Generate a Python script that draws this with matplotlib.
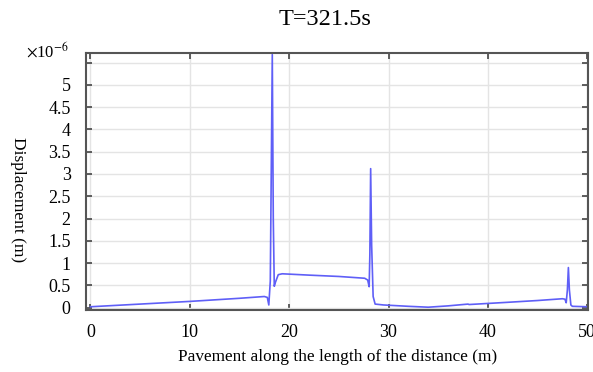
import matplotlib
matplotlib.use("Agg")
import matplotlib.pyplot as plt
import numpy as np

plt.rcParams['font.family'] = ['Liberation Serif', 'DejaVu Serif']
plt.rcParams['mathtext.fontset'] = 'stix'

# surface displacement along the pavement at T=321.5 s (values in 1e-6 m)
dist = [0, 5, 10, 15, 17.5, 17.8, 17.95, 18.1, 18.3, 18.4, 18.5, 18.6, 18.9, 19.3,
        22, 25, 27.6, 27.9, 28.05, 28.12, 28.2, 28.3, 28.45, 28.65, 29.5, 32, 34,
        36, 38, 38.1, 42, 45, 47.5, 47.75, 47.88, 48.0, 48.1, 48.2, 48.35, 48.5, 50]
disp = [0.02, 0.08, 0.14, 0.21, 0.25, 0.23, 0.06, 0.6, 5.68, 2.0, 0.48, 0.56, 0.74, 0.76,
        0.73, 0.70, 0.66, 0.62, 0.47, 1.2, 3.12, 1.4, 0.25, 0.08, 0.06, 0.03, 0.01,
        0.04, 0.08, 0.07, 0.12, 0.16, 0.20, 0.19, 0.11, 0.4, 0.9, 0.4, 0.06, 0.03, 0.02]

yticks = np.arange(0, 5.51, 0.5)
ytick_labels = ['0', '0.5', '1', '1.5', '2', '2.5', '3', '3.5', '4', '4.5', '5', '']

fig = plt.figure(figsize=(5.93, 3.72), dpi=100)
ax = fig.add_axes([0.145, 0.167, 0.847, 0.691])

ax.plot(dist, disp, color='#5f5ff7', lw=1.2)

ax.set_xlim(-0.45, 50.1)
ax.set_ylim(-0.05, 5.72)
ax.set_xticks([0, 10, 20, 30, 40, 50])
ax.set_yticks(yticks)
ax.set_yticklabels(ytick_labels)
ax.grid(True, color='#e4e4e4', lw=1)
ax.set_axisbelow(True)
ax.tick_params(direction='in', top=True, right=True, length=4, width=1.2,
               labelsize=13, color='#444444', pad=11)
ax.tick_params(axis='x', pad=10)
for sp in ax.spines.values():
    sp.set_color('#555555')
    sp.set_linewidth(1.5)

fig.text(0.548, 0.947, 'T=321.5s', fontsize=17.5, ha='center', va='center')
ax.set_xlabel('Pavement along the length of the distance (m)', fontsize=12.4, labelpad=6)
fig.text(0.031, 0.463, 'Displacement (m)', fontsize=12.5, rotation=270,
         ha='center', va='center')
fig.text(0.044, 0.862, r'$\times$10$^{-6}$', fontsize=12, va='center', ha='left')

fig.savefig('out.png', dpi=100)
